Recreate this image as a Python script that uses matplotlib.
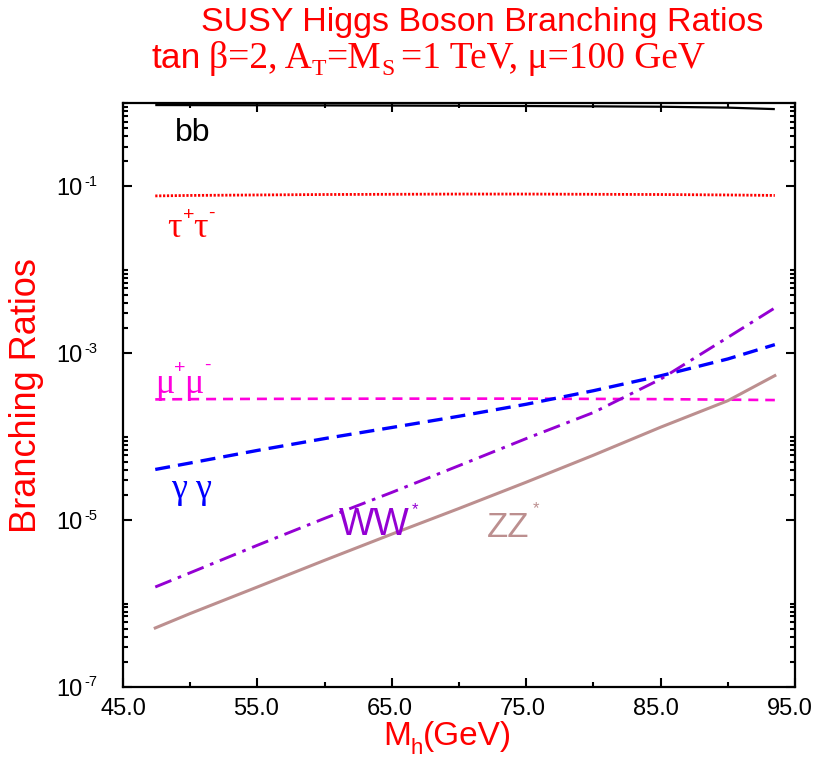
import numpy as np
import matplotlib
matplotlib.use("Agg")
import matplotlib.pyplot as plt
from matplotlib.ticker import FixedLocator, NullFormatter

# ---------------- data ----------------
mh = [47.4, 50, 55, 60, 65, 70, 75, 80, 85, 90, 93.5]
br_bb = [0.945, 0.943, 0.940, 0.936, 0.932, 0.927, 0.920, 0.912, 0.902, 0.880, 0.845]
br_tautau = [0.0770, 0.0780, 0.0790, 0.0800, 0.0805, 0.0810, 0.0810, 0.0805, 0.0800, 0.0790, 0.0780]
br_mumu = [2.80e-4, 2.82e-4, 2.84e-4, 2.85e-4, 2.86e-4, 2.86e-4, 2.86e-4, 2.84e-4, 2.82e-4, 2.78e-4, 2.75e-4]
br_gamgam = [4.05e-5, 4.84e-5, 6.85e-5, 9.5e-5, 1.29e-4, 1.76e-4, 2.45e-4, 3.56e-4, 5.37e-4, 8.55e-4, 1.27e-3]
br_ww = [1.58e-6, 2.34e-6, 5.0e-6, 1.05e-5, 2.15e-5, 4.5e-5, 9.5e-5, 1.95e-4, 4.9e-4, 1.55e-3, 3.5e-3]
br_zz = [5.1e-7, 7.6e-7, 1.58e-6, 3.3e-6, 6.8e-6, 1.38e-5, 2.85e-5, 6.0e-5, 1.3e-4, 2.7e-4, 5.4e-4]

xticks_major = [45, 55, 65, 75, 85, 95]
xtick_labels = ["45.0", "55.0", "65.0", "75.0", "85.0", "95.0"]
xticks_minor = [50, 60, 70, 80, 90]
yticks_major = [1e-7, 1e-5, 1e-3, 1e-1]
ytick_exps = ["-7", "-5", "-3", "-1"]

# ---------------- style ----------------
SANS = ["Liberation Sans", "DejaVu Sans"]
SERIF = ["Liberation Serif", "DejaVu Serif"]
plt.rcParams["font.family"] = SANS
plt.rcParams["lines.scale_dashes"] = False

W, H = 815, 761
fig = plt.figure(figsize=(W / 100, H / 100), dpi=100)
L, R, T, B = 123, 795, 103, 687
ax = fig.add_axes([L / W, 1 - B / H, (R - L) / W, (B - T) / H])

ax.set_yscale("log")
ax.set_xlim(45, 95)
ax.set_ylim(1e-7, 1.0)

ax.plot(mh, br_bb, color="black", lw=1.6, solid_capstyle="butt")
ax.plot(mh, br_tautau, color="red", lw=2.0, dashes=(1.6, 1.2))
ax.plot(mh, br_mumu, color="#ff00dd", lw=1.9, dashes=(7.2, 5.0))
ax.plot(mh, br_gamgam, color="#0000ff", lw=2.4, dashes=(10.8, 5.8))
ax.plot(mh, br_ww, color="#9400d3", lw=2.1, dashes=(12.5, 5.0, 2.6, 5.0))
ax.plot(mh, br_zz, color="#bc8f8f", lw=2.2)

# ticks (labels drawn separately below)
ax.xaxis.set_major_locator(FixedLocator(xticks_major))
ax.xaxis.set_major_formatter(NullFormatter())
ax.xaxis.set_minor_locator(FixedLocator(xticks_minor))
ax.yaxis.set_major_locator(FixedLocator(yticks_major))
ax.yaxis.set_major_formatter(NullFormatter())
yminor = [k * 10.0 ** n for n in (-7, -5, -3, -1) for k in range(2, 11)]
ax.yaxis.set_minor_locator(FixedLocator(yminor))
ax.yaxis.set_minor_formatter(NullFormatter())

ax.tick_params(which="both", direction="in", top=True, right=True, width=1.5, colors="black")
ax.tick_params(which="major", length=6.5)
ax.tick_params(which="minor", length=3.8)
for s in ax.spines.values():
    s.set_linewidth(1.6)

renderer = fig.canvas.get_renderer()


def pieces(x, y, items, color, align="left"):
    """Draw consecutive text pieces; x, y in pixels from top-left, y = baseline.
    items: (text, size_pt, family, dy_px_up, gap_px_after)"""
    made = []
    total = 0.0
    for s, size, fam, dy, gap in items:
        t = fig.text(0, 0, s, fontsize=size, family=fam, color=color,
                     ha="left", va="baseline")
        w = t.get_window_extent(renderer).width
        made.append((t, w, dy, gap))
        total += w + gap
    if align == "right":
        cx = x - total
    elif align == "center":
        cx = x - total / 2
    else:
        cx = x
    for t, w, dy, gap in made:
        t.set_position((cx / W, 1 - (y - dy) / H))
        cx += w + gap


def ypix(v):
    return B - (np.log10(v) + 7) / 7 * (B - T)


def xpix(v):
    return L + (v - 45) / 50 * (R - L)


# x tick labels
for i, (v, s) in enumerate(zip(xticks_major, xtick_labels)):
    pieces(xpix(v) - 1.1 * i, 715, [(s, 17, SANS, 0, 0)], "black", align="center")

# y tick labels: 10 with a raised exponent
for v, e in zip(yticks_major, ytick_exps):
    pieces(97, ypix(v) + 8.5, [("10", 17, SANS, 0, 1), (e, 10.5, SANS, 9, 0)],
           "black", align="right")

# curve labels
S2 = 26
pieces(175, 141, [("bb", 23, SANS, 0, 0)], "black")
pieces(167, 237, [("τ", S2, SERIF, 0, 1), ("+", 14, SANS, 17, -1),
                  ("τ", S2, SERIF, 0, 1), ("-", 14, SANS, 19, 0)], "red")
pieces(155, 393, [("μ", S2, SERIF, 0, 0), ("+", 14, SANS, 20, -2),
                  ("μ", S2, SERIF, 0, 1), ("-", 14, SANS, 23, 0)], "#ff00dd")
pieces(171, 498, [("γ", S2, SERIF, 0, 8), ("γ", S2, SERIF, 0, 0)], "#0000ff")
pieces(339, 535, [("WW", 27, SANS, 0, 2), ("*", 12, SANS, 21, 0)], "#9400d3")
pieces(487, 537, [("ZZ", 25, SANS, 0, 3), ("*", 12, SANS, 24, 0)], "#bc8f8f")

# titles and axis labels
fig.text(482 / W, 1 - 22 / H, "SUSY Higgs Boson Branching Ratios", color="red",
         fontsize=24.5, ha="center", va="center")
S1 = 27
pieces(152, 68, [("tan", S1 - 1.5, SANS, 0, 8), ("β=2, A", S1, SERIF, 0, 0),
                 ("T", 17, SERIF, -7, 0), ("=M", S1, SERIF, 0, 0),
                 ("S", 17, SERIF, -7, 7), ("=1 TeV, μ=100 GeV", S1, SERIF, 0, 0)], "red")
fig.text(27 / W, 1 - 396 / H, "Branching Ratios", color="red", fontsize=26,
         rotation=90, ha="center", va="center")
pieces(383, 745, [("M", 24, SANS, 0, 0), ("h", 16, SANS, -9, 0),
                  ("(GeV)", 24, SANS, 0, 0)], "red")

fig.savefig("out.png", dpi=100)
